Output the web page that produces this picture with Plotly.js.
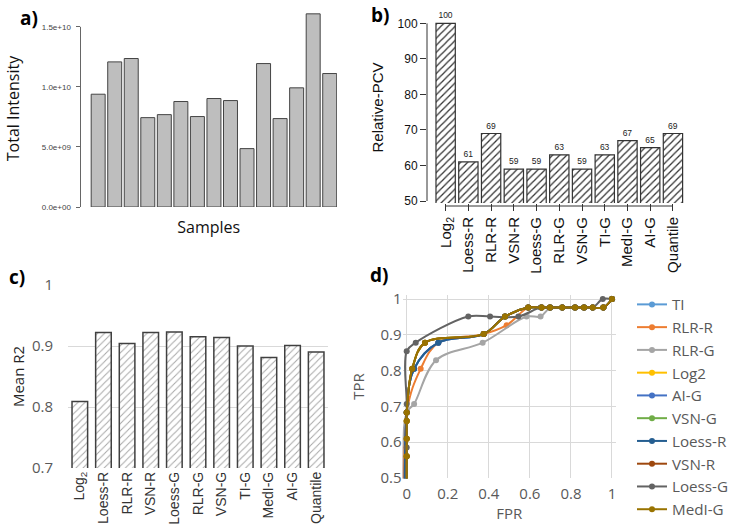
<!DOCTYPE html>
<html>
<head>
<meta charset="utf-8">
<script src="https://cdn.plot.ly/plotly-3.0.1.min.js"></script>
<style>html,body{margin:0;padding:0;background:#fff}#chart{width:729px;height:532px}</style>
</head>
<body>
<div id="chart"></div>
<script>
// ---------- data ----------
// panel a
const samples = [1,2,3,4,5,6,7,8,9,10,11,12,13,14,15];
const totalIntensity = [9.39e9,12.08e9,12.36e9,7.44e9,7.69e9,8.78e9,7.53e9,9.03e9,8.86e9,4.86e9,11.94e9,7.36e9,9.92e9,16.08e9,11.11e9];
const intensityTickVals = [0,5e9,1e10,1.5e10];
const intensityTickText = ["0.0e+00","5.0e+09","1.0e+10","1.5e+10"];
// panel b & c
const methods = ["Log<sub>2</sub>","Loess-R","RLR-R","VSN-R","Loess-G","RLR-G","VSN-G","TI-G","MedI-G","AI-G","Quantile"];
const relativePCV = [100,61,69,59,59,63,59,63,67,65,69];
const meanR2 = [0.809,0.922,0.904,0.922,0.923,0.915,0.914,0.900,0.881,0.901,0.890];
// panel d (ROC)
const rocNames = ["TI","RLR-R","RLR-G","Log2","AI-G","VSN-G","Loess-R","VSN-R","Loess-G","MedI-G"];
const fprTI    = [0,0,0.036,0.154,0.375,0.479,0.592,0.657,0.698,0.758,0.820,0.864,0.906,0.958,1];
const tprTI    = [0,0.683,0.805,0.878,0.902,0.951,0.976,0.976,0.976,0.976,0.976,0.976,0.976,0.976,1];
const fprRLRR  = [0,0,0.068,0.154,0.375,0.487,0.592,0.657,0.698,0.758,0.820,0.864,0.906,0.958,1];
const tprRLRR  = [0,0.683,0.805,0.878,0.902,0.927,0.976,0.976,0.976,0.976,0.976,0.976,0.976,0.976,1];
const fprRLRG  = [0,0,0.036,0.143,0.370,0.584,0.652,0.700,0.758,0.820,0.864,0.906,0.958,1];
const tprRLRG  = [0,0.683,0.707,0.829,0.878,0.951,0.951,0.976,0.976,0.976,0.976,0.976,0.976,1];
const fprLog2  = [0,0,0,0,0,0.027,0.089,0.375,0.479,0.592,0.657,0.698,0.758,0.820,0.864,0.906,0.958,1];
const tprLog2  = [0,0.561,0.610,0.659,0.683,0.805,0.878,0.902,0.951,0.976,0.976,0.976,0.976,0.976,0.976,0.976,0.976,1];
const fprAIG   = [0,0,0.036,0.154,0.375,0.479,0.592,0.657,0.698,0.758,0.820,0.864,0.906,0.958,1];
const tprAIG   = [0,0.683,0.805,0.878,0.902,0.951,0.976,0.976,0.976,0.976,0.976,0.976,0.976,0.976,1];
const fprVSNG  = [0,0,0,0,0,0.027,0.089,0.375,0.479,0.592,0.657,0.698,0.758,0.820,0.864,0.906,0.958,1];
const tprVSNG  = [0,0.561,0.610,0.659,0.683,0.805,0.878,0.902,0.951,0.976,0.976,0.976,0.976,0.976,0.976,0.976,0.976,1];
const fprLoessR= [0,0,0.036,0.154,0.375,0.479,0.592,0.657,0.698,0.758,0.820,0.864,0.906,0.958,1];
const tprLoessR= [0,0.683,0.805,0.878,0.902,0.951,0.976,0.976,0.976,0.976,0.976,0.976,0.976,0.976,1];
const fprVSNR  = [0,0,0,0,0,0.027,0.089,0.375,0.479,0.592,0.657,0.698,0.758,0.820,0.864,0.906,0.958,1];
const tprVSNR  = [0,0.561,0.610,0.659,0.683,0.805,0.878,0.902,0.951,0.976,0.976,0.976,0.976,0.976,0.976,0.976,0.976,1];
const fprLoessG= [0,0,0,0,0.044,0.300,0.406,0.544,0.652,0.700,0.758,0.820,0.864,0.906,0.955,1];
const tprLoessG= [0,0.585,0.707,0.854,0.878,0.951,0.951,0.951,0.976,0.976,0.976,0.976,0.976,0.976,1,1];
const fprMedIG = [0,0,0,0,0,0.027,0.089,0.375,0.479,0.592,0.657,0.698,0.758,0.820,0.864,0.906,0.958,1];
const tprMedIG = [0,0.561,0.610,0.659,0.683,0.805,0.878,0.902,0.951,0.976,0.976,0.976,0.976,0.976,0.976,0.976,0.976,1];
const rocFpr = [fprTI,fprRLRR,fprRLRG,fprLog2,fprAIG,fprVSNG,fprLoessR,fprVSNR,fprLoessG,fprMedIG];
const rocTpr = [tprTI,tprRLRR,tprRLRG,tprLog2,tprAIG,tprVSNG,tprLoessR,tprVSNR,tprLoessG,tprMedIG];
const rocColors = ["#5B9BD5","#ED7D31","#A5A5A5","#FFC000","#4472C4","#70AD47","#255E91","#9E480E","#636363","#997300"];

// ---------- helpers ----------
const W = 729, H = 532;
const fx = p => p / W;
const fy = p => 1 - p / H;
const R = "Liberation Sans, Arial, sans-serif";
const S = "Open Sans, Noto Sans, sans-serif";

const traces = [];
// a
traces.push({type:"bar", x:samples, y:totalIntensity, xaxis:"x", yaxis:"y", width:0.845,
  marker:{color:"#bebebe", line:{color:"#444", width:1}}, showlegend:false, hoverinfo:"skip"});
// b
traces.push({type:"bar", x:methods, y:relativePCV, xaxis:"x2", yaxis:"y2", width:0.85,
  marker:{color:"#fff", line:{color:"#333", width:1.2}, pattern:{shape:"/", fgcolor:"#333", bgcolor:"#fff", size:5, solidity:0.25}},
  text:relativePCV.map(String), textposition:"outside", cliponaxis:false, constraintext:"none",
  textfont:{family:R, size:8.5, color:"#222"}, showlegend:false, hoverinfo:"skip"});
// c
traces.push({type:"bar", x:methods, y:meanR2, xaxis:"x3", yaxis:"y3", width:0.66,
  marker:{color:"#fff", line:{color:"#404040", width:1.5}, pattern:{shape:"/", fgcolor:"#a8a8a8", bgcolor:"#fff", size:5, solidity:0.2}},
  showlegend:false, hoverinfo:"skip"});
// d
rocNames.forEach((n,i) => {
  traces.push({type:"scatter", mode:"lines+markers", name:n, x:rocFpr[i], y:rocTpr[i], xaxis:"x4", yaxis:"y4",
    line:{color:rocColors[i], width:2, shape:"spline", smoothing:1, simplify:false}, marker:{color:rocColors[i], size:6}});
});

const layout = {
  width:W, height:H, margin:{l:0,r:0,t:0,b:0,autoexpand:false}, paper_bgcolor:"#fff", plot_bgcolor:"#fff",
  showlegend:true,
  // a
  xaxis:{domain:[fx(80.5),fx(337)], range:[-0.068,15.44], anchor:"y", showticklabels:false, ticks:"", showgrid:false, zeroline:false, showline:false,
    title:{text:"Samples", font:{family:S, size:16, color:"#111"}, standoff:14}},
  yaxis:{domain:[fy(207),fy(10)], range:[0,16.4e9], anchor:"x", tickvals:intensityTickVals, ticktext:intensityTickText,
    ticks:"outside", ticklen:4, tickcolor:"#666", ticklabelstandoff:3, tickfont:{family:R, size:8, color:"#444"}, showgrid:false, zeroline:false, showline:false,
    title:{text:"Total Intensity", font:{family:S, size:16, color:"#111"}, standoff:18}},
  // b
  xaxis2:{domain:[fx(427),fx(685)], range:[-0.82,10.53], anchor:"y2", type:"category", tickangle:-90, ticks:"outside", ticklen:7, tickcolor:"#333",
    tickfont:{family:R, size:15, color:"#111"}, showgrid:false, zeroline:false, showline:false},
  yaxis2:{domain:[fy(203),fy(12)], range:[49.44,103.2], anchor:"x2", tickvals:[50,60,70,80,90,100], ticks:"outside", ticklen:6, tickcolor:"#333",
    tickfont:{family:R, size:12, color:"#111"}, showgrid:false, zeroline:false, showline:false,
    title:{text:"Relative-PCV", font:{family:R, size:15, color:"#111"}, standoff:10}},
  // c
  xaxis3:{domain:[fx(68),fx(328)], range:[-0.5,10.5], anchor:"y3", type:"category", tickangle:-90, ticks:"",
    tickfont:{family:R, size:14, color:"#333"}, showgrid:false, zeroline:false, showline:false},
  yaxis3:{domain:[fy(468),fy(285)], range:[0.7,1.0], anchor:"x3", dtick:0.1, tick0:0.7, ticks:"", ticklabelstandoff:14,
    tickfont:{family:S, size:15, color:"#595959"}, showgrid:true, gridcolor:"#d9d9d9", gridwidth:1, zeroline:false, showline:false,
    title:{text:"Mean R2", font:{family:S, size:15, color:"#262626"}, standoff:3}},
  // d
  xaxis4:{domain:[fx(402.6),fx(616.1)], range:[-0.02,1.02], anchor:"y4", tickvals:[0,0.2,0.4,0.6,0.8,1], ticks:"", ticklabelstandoff:5,
    tickfont:{family:S, size:15, color:"#595959"}, showgrid:true, gridcolor:"#d9d9d9", zeroline:false, showline:false, mirror:false,
    title:{text:"FPR", font:{family:S, size:15, color:"#595959"}, standoff:2}},
  yaxis4:{domain:[fy(478.4),fy(294.7)], range:[0.499,1.012], anchor:"x4", tickvals:[0.5,0.6,0.7,0.8,0.9,1], ticks:"",
    tickfont:{family:S, size:15, color:"#595959"}, showgrid:true, gridcolor:"#d9d9d9", zeroline:false, showline:false, mirror:false,
    title:{text:"TPR", font:{family:S, size:15, color:"#595959"}, standoff:12}},
  legend:{x:fx(632), y:fy(288), xanchor:"left", yanchor:"top", font:{family:S, size:15.2, color:"#595959"}, bgcolor:"rgba(0,0,0,0)", tracegroupgap:0},
  shapes:[
    {type:"line", xref:"paper", yref:"y", x0:fx(80.5), x1:fx(80.5), y0:0, y1:1.5e10, line:{color:"#666", width:1}},
    {type:"line", xref:"paper", yref:"y2", x0:fx(427), x1:fx(427), y0:50, y1:100, line:{color:"#333", width:1}},
    {type:"line", xref:"x2", yref:"paper", x0:0, x1:10, y0:fy(206), y1:fy(206), line:{color:"#333", width:1}}
  ],
  annotations:[
    {text:"<b>a)</b>", x:fx(18), y:fy(3), xref:"paper", yref:"paper", xanchor:"left", yanchor:"top", showarrow:false, font:{family:S, size:19, color:"#000"}},
    {text:"<b>b)</b>", x:fx(369), y:fy(0), xref:"paper", yref:"paper", xanchor:"left", yanchor:"top", showarrow:false, font:{family:S, size:19, color:"#000"}},
    {text:"<b>c)</b>", x:fx(7), y:fy(262), xref:"paper", yref:"paper", xanchor:"left", yanchor:"top", showarrow:false, font:{family:S, size:19, color:"#000"}},
    {text:"<b>d)</b>", x:fx(368), y:fy(260), xref:"paper", yref:"paper", xanchor:"left", yanchor:"top", showarrow:false, font:{family:S, size:19, color:"#000"}}
  ]
};
Plotly.newPlot("chart", traces, layout, {displayModeBar:false, staticPlot:true});
</script>
</body>
</html>
